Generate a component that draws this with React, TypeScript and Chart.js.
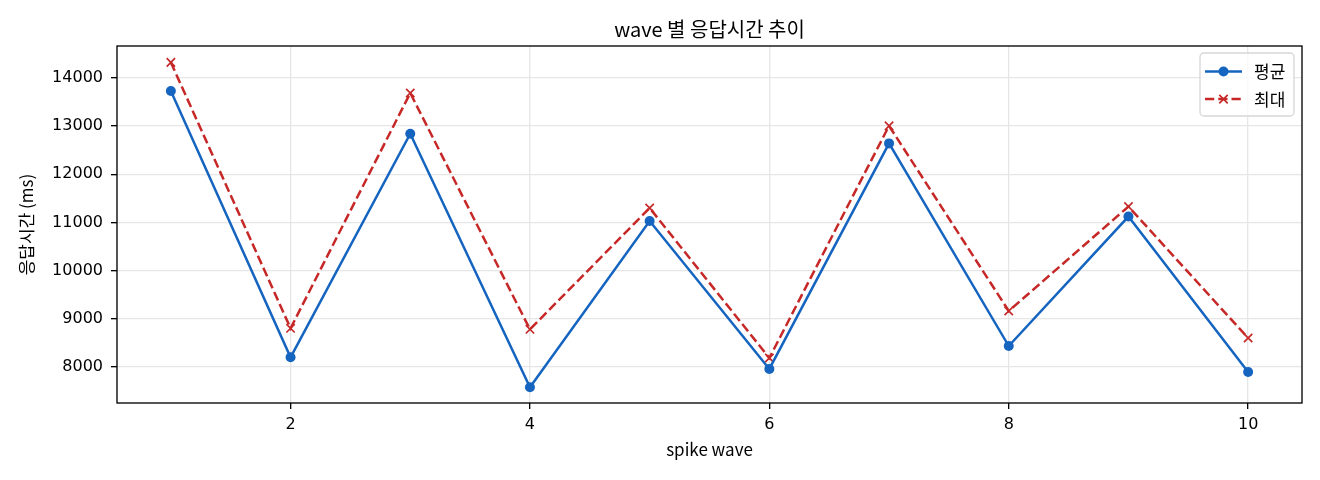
import { useEffect, useRef } from "react"
import { Chart, registerables } from "chart.js"

Chart.register(...registerables)

const waves = [1, 2, 3, 4, 5, 6, 7, 8, 9, 10]
const avgMs = [13730, 8201, 12842, 7579, 11031, 7960, 12642, 8436, 11124, 7896]
const maxMs = [14324, 8803, 13688, 8782, 11301, 8187, 13006, 9163, 11331, 8602]
const xTicks = [2, 4, 6, 8, 10]
const yTicks = [8000, 9000, 10000, 11000, 12000, 13000, 14000]

const BLUE = "#1565c0"
const RED = "#c62828"
const KFONT = "'Noto Sans CJK KR', 'Noto Sans', sans-serif"
const TFONT = "'DejaVu Sans', sans-serif"

// frame on all four sides + matplotlib-style legend (line with marker)
const framePlugin = {
  id: "frame",
  afterDatasetsDraw(chart: any) {
    const { ctx, chartArea: a } = chart
    ctx.save()
    ctx.strokeStyle = "#000"
    ctx.lineWidth = 1.33
    ctx.strokeRect(a.left, a.top, a.right - a.left, a.bottom - a.top)

    // legend
    const w = 94
    const h = 63
    const x = a.right - 8 - w
    const y = a.top + 7
    const r = 4
    ctx.beginPath()
    ctx.moveTo(x + r, y)
    ctx.arcTo(x + w, y, x + w, y + h, r)
    ctx.arcTo(x + w, y + h, x, y + h, r)
    ctx.arcTo(x, y + h, x, y, r)
    ctx.arcTo(x, y, x + w, y, r)
    ctx.closePath()
    ctx.fillStyle = "rgba(255,255,255,0.8)"
    ctx.fill()
    ctx.strokeStyle = "#d6d6d6"
    ctx.lineWidth = 1.3
    ctx.stroke()

    chart.data.datasets.forEach((ds: any, i: number) => {
      const cy = y + 18.5 + i * 27.6
      const x0 = x + 5
      const x1 = x + 42
      const cx = (x0 + x1) / 2
      ctx.strokeStyle = ds.borderColor
      ctx.lineWidth = ds.borderWidth
      ctx.setLineDash(ds.borderDash || [])
      ctx.beginPath()
      ctx.moveTo(x0, cy)
      ctx.lineTo(x1, cy)
      ctx.stroke()
      ctx.setLineDash([])
      if (ds.pointStyle === "circle") {
        ctx.fillStyle = ds.pointBackgroundColor
        ctx.beginPath()
        ctx.arc(cx, cy, 5, 0, Math.PI * 2)
        ctx.fill()
      } else {
        ctx.strokeStyle = ds.pointBorderColor
        ctx.lineWidth = 1.67
        ctx.beginPath()
        ctx.moveTo(cx - 4.2, cy - 4.2)
        ctx.lineTo(cx + 4.2, cy + 4.2)
        ctx.moveTo(cx - 4.2, cy + 4.2)
        ctx.lineTo(cx + 4.2, cy - 4.2)
        ctx.stroke()
      }
      ctx.fillStyle = "#000"
      ctx.font = "17px " + KFONT
      ctx.textAlign = "left"
      ctx.textBaseline = "middle"
      ctx.fillText(ds.label, x + 54, cy)
    })
    ctx.restore()
  },
}

export default function App() {
  const chartRef = useRef<HTMLCanvasElement>(null)
  const chartInstance = useRef<Chart | null>(null)

  useEffect(() => {
    document.body.style.margin = "0"
    if (!chartRef.current) return
    if (chartInstance.current) chartInstance.current.destroy()
    const ctx = chartRef.current.getContext("2d")
    if (!ctx) return

    chartInstance.current = new Chart(ctx, {
      type: "line",
      data: {
        datasets: [
          {
            label: "평균",
            data: waves.map((w, i) => ({ x: w, y: avgMs[i] })),
            borderColor: BLUE,
            backgroundColor: BLUE,
            borderWidth: 2.5,
            pointStyle: "circle",
            pointRadius: 5,
            pointBackgroundColor: BLUE,
            pointBorderColor: BLUE,
            pointBorderWidth: 0,
            tension: 0,
          },
          {
            label: "최대",
            data: waves.map((w, i) => ({ x: w, y: maxMs[i] })),
            borderColor: RED,
            backgroundColor: RED,
            borderWidth: 2.5,
            borderDash: [9.25, 4],
            pointStyle: "crossRot",
            pointRadius: 5.9,
            pointBorderColor: RED,
            pointBorderWidth: 1.67,
            tension: 0,
          },
        ],
      },
      options: {
        responsive: true,
        maintainAspectRatio: false,
        animation: false,
        layout: { padding: { left: 0, right: 18, top: 0, bottom: 0 } },
        plugins: {
          legend: { display: false },
          tooltip: { enabled: false },
          title: {
            display: true,
            fullSize: false,
            text: "wave 별 응답시간 추이",
            color: "#000",
            font: { family: KFONT, size: 20, weight: "normal" },
            padding: { top: 17.5, bottom: 4.5 },
          },
        },
        scales: {
          x: {
            type: "linear",
            min: 0.55,
            max: 10.45,
            afterBuildTicks: (s: any) => {
              s.ticks = xTicks.map((v) => ({ value: v }))
            },
            afterFit: (s: any) => {
              s.height = 77
            },
            grid: {
              color: "#e6e6e6",
              lineWidth: 1.33,
              drawTicks: true,
              tickLength: 6,
              tickColor: "#000",
              tickWidth: 1.33,
            },
            border: { display: false },
            ticks: {
              color: "#000",
              font: { family: TFONT, size: 16 },
              padding: 6,
              maxRotation: 0,
              callback: (v: any) => String(v),
            },
            title: {
              display: true,
              text: "spike wave",
              color: "#000",
              font: { family: KFONT, size: 17 },
              padding: { top: 0, bottom: 20 },
            },
          },
          y: {
            type: "linear",
            min: 7253,
            max: 14664,
            afterBuildTicks: (s: any) => {
              s.ticks = yTicks.map((v) => ({ value: v }))
            },
            afterFit: (s: any) => {
              s.width = 117
            },
            grid: {
              color: "#e6e6e6",
              lineWidth: 1.33,
              drawTicks: true,
              tickLength: 6,
              tickColor: "#000",
              tickWidth: 1.33,
            },
            border: { display: false },
            ticks: {
              color: "#000",
              font: { family: TFONT, size: 16 },
              padding: 8,
              callback: (v: any) => String(v),
            },
            title: {
              display: true,
              text: "응답시간 (ms)",
              color: "#000",
              font: { family: KFONT, size: 17 },
              padding: { top: 16.5, bottom: 0 },
            },
          },
        },
      },
      plugins: [framePlugin],
    } as any)

    return () => {
      if (chartInstance.current) {
        chartInstance.current.destroy()
        chartInstance.current = null
      }
    }
  }, [])

  return (
    <div style={{ width: 1320, height: 480, position: "relative" }}>
      <canvas ref={chartRef} />
    </div>
  )
}
